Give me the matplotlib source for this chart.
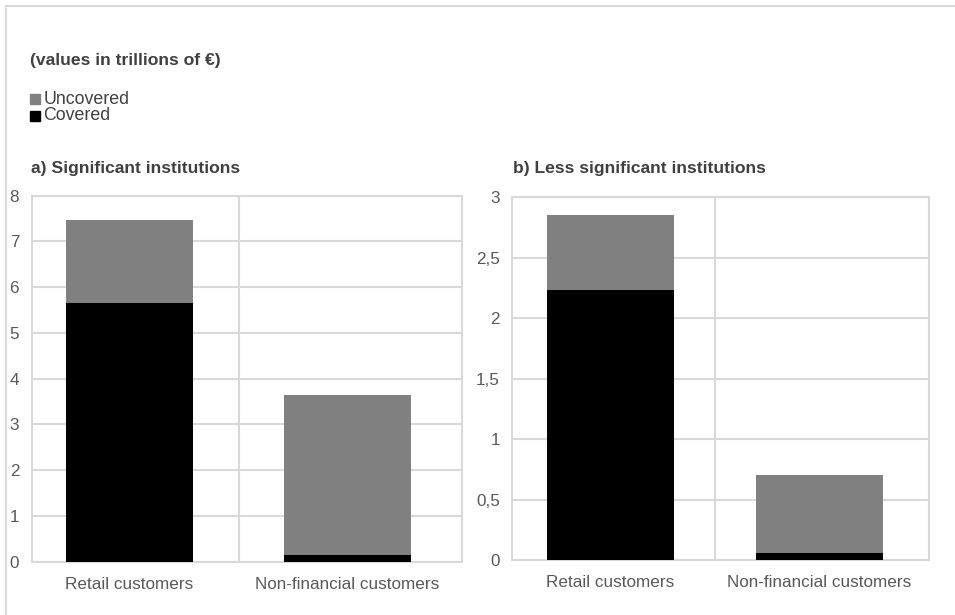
import matplotlib
matplotlib.use("Agg")
import matplotlib.pyplot as plt
from matplotlib.patches import Rectangle
from matplotlib.lines import Line2D

plt.rcParams['font.family'] = ['Liberation Sans', 'DejaVu Sans']

categories = ["Retail customers", "Non-financial customers"]
si_covered = [5.65, 0.15]
si_uncovered = [1.82, 3.49]
lsi_covered = [2.23, 0.06]
lsi_uncovered = [0.62, 0.64]
si_yticks = [0, 1, 2, 3, 4, 5, 6, 7, 8]
lsi_yticks = [0, 0.5, 1, 1.5, 2, 2.5, 3]
lsi_yticklabels = ["0", "0,5", "1", "1,5", "2", "2,5", "3"]

GRID = "#d9d9d9"
GREY = "#808080"
TXT = "#595959"
TITLE = "#404040"

fig = plt.figure(figsize=(9.55, 6.15), dpi=100)
W, H = 955, 615

def ax_rect(x0, y0, x1, y1):
    return [x0 / W, 1 - y1 / H, (x1 - x0) / W, (y1 - y0) / H]

def draw(ax, cov, unc, yticks, ylabels, ymax, xlim, width):
    x = list(range(len(categories)))
    ax.bar(x, cov, width=width, color="black", zorder=3)
    ax.bar(x, unc, bottom=cov, width=width, color=GREY, zorder=3)
    ax.set_xlim(*xlim)
    ax.set_ylim(0, ymax)
    ax.set_yticks(yticks)
    ax.set_yticklabels(ylabels)
    ax.set_xticks(x)
    ax.set_xticklabels(categories)
    ax.yaxis.grid(True, color=GRID, linewidth=1.5, zorder=0)
    ax.axvline(0.5, color=GRID, linewidth=1.5, zorder=0)
    for s in ax.spines.values():
        s.set_color(GRID)
        s.set_linewidth(1.5)
    ax.tick_params(axis="both", length=0, labelsize=12.3, colors=TXT)
    ax.tick_params(axis="x", pad=11)
    ax.tick_params(axis="y", pad=9)

ax1 = fig.add_axes(ax_rect(31.7, 195.5, 461.7, 561.7))
draw(ax1, si_covered, si_uncovered, si_yticks, [str(v) for v in si_yticks], 8,
     (-0.449, 1.524), 0.583)

ax2 = fig.add_axes(ax_rect(512.3, 197.3, 929.3, 560.0))
draw(ax2, lsi_covered, lsi_uncovered, lsi_yticks, lsi_yticklabels, 3,
     (-0.47, 1.525), 0.608)

# figure border (top and left)
fig.add_artist(Line2D([5.5 / W, 1.0], [1 - 5.5 / H, 1 - 5.5 / H], color=GRID, linewidth=1.5))
fig.add_artist(Line2D([5.5 / W, 5.5 / W], [0, 1 - 5.5 / H], color=GRID, linewidth=1.5))

fig.text(30 / W, 1 - 61 / H, "(values in trillions of €)", fontsize=12.6, fontweight="bold",
         color=TITLE, va="center", ha="left")
fig.text(31 / W, 1 - 168 / H, "a) Significant institutions", fontsize=12.6, fontweight="bold",
         color=TITLE, va="center", ha="left")
fig.text(513 / W, 1 - 168 / H, "b) Less significant institutions", fontsize=12.6, fontweight="bold",
         color=TITLE, va="center", ha="left")

# legend
for yc, col, lab in [(99, GREY, "Uncovered"), (116, "black", "Covered")]:
    fig.add_artist(Rectangle((30 / W, 1 - (yc + 5) / H), 10 / W, 10 / H,
                             color=col, transform=fig.transFigure))
    fig.text(43.5 / W, 1 - yc / H, lab, fontsize=12.8, color=TITLE, va="center", ha="left")

fig.savefig("out.png", dpi=100)
